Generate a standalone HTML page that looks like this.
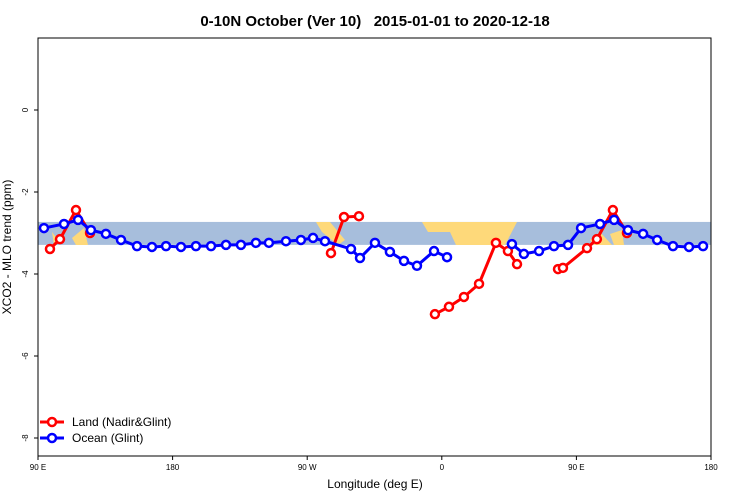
<!DOCTYPE html>
<html><head><meta charset="utf-8"><style>
body{margin:0;background:#fff;}
svg{display:block;font-family:"Liberation Sans",sans-serif;}
</style></head><body>
<svg id="chart" width="750" height="500">
<text x="375" y="26" text-anchor="middle" font-size="15" font-weight="bold" style="white-space:pre">0-10N October (Ver 10)   2015-01-01 to 2020-12-18</text>
<g id="map"></g>
<g id="axes"></g>
<g id="series"></g>
<text x="375" y="488" text-anchor="middle" font-size="12">Longitude (deg E)</text>
<text transform="translate(11,247) rotate(-90)" text-anchor="middle" font-size="12">XCO2 - MLO trend (ppm)</text>
<g>
<line x1="40" y1="422" x2="64" y2="422" stroke="#f00" stroke-width="3"/><circle cx="52" cy="422" r="4" fill="#fff" stroke="#f00" stroke-width="2.5"/>
<text x="72" y="426" font-size="12">Land (Nadir&amp;Glint)</text>
<line x1="40" y1="438" x2="64" y2="438" stroke="#00f" stroke-width="3"/><circle cx="52" cy="438" r="4" fill="#fff" stroke="#00f" stroke-width="2.5"/>
<text x="72" y="442" font-size="12">Ocean (Glint)</text>
</g>
</svg>
<script>
const xTickVals=[90,180,270,360,450,540];
const xTickLabels=["90 E","180","90 W","0","90 E","180"];
const yTickVals=[0,-2,-4,-6,-8];
const yTickLabels=["0","-2","-4","-6","-8"];
const oceanLon=[94,107.4,116.8,125.4,135.4,145.5,156.2,166.2,175.6,185.6,195.6,205.7,215.7,225.7,235.7,244.4,255.8,265.8,273.9,281.9,299.3,305.3,315.3,325.3,334.7,343.4,354.8,363.5,null,406.9,414.9,425,435,444.4,453.1,465.8,475.2,484.5,494.6,504,514.6,525.3,534.7];
const oceanVal=[-2.88,-2.78,-2.68,-2.93,-3.02,-3.17,-3.32,-3.34,-3.32,-3.34,-3.32,-3.32,-3.29,-3.29,-3.24,-3.24,-3.2,-3.17,-3.12,-3.2,-3.39,-3.61,-3.24,-3.46,-3.68,-3.8,-3.44,-3.59,null,-3.27,-3.51,-3.44,-3.32,-3.29,-2.88,-2.78,-2.68,-2.93,-3.02,-3.17,-3.32,-3.34,-3.32];
const landLon=[98,104.7,115.4,124.8,null,285.9,294.6,304.6,null,355.4,364.8,374.8,384.9,396.2,404.2,410.3,null,437.7,441,457.1,463.7,474.4,483.8];
const landVal=[-3.39,-3.15,-2.44,-3.0,null,-3.49,-2.61,-2.59,null,-4.98,-4.8,-4.56,-4.24,-3.24,-3.44,-3.76,null,-3.88,-3.85,-3.37,-3.15,-2.44,-3.0];
const X0=38,X1=711,Y0=38,Y1=456;
const xs=l=>X0+(l-90)/450*(X1-X0);
const ys=v=>110-v*41;
const NS="http://www.w3.org/2000/svg";
function mk(t,a,p){const e=document.createElementNS(NS,t);for(const k in a)e.setAttribute(k,a[k]);p.appendChild(e);return e;}
const map=document.getElementById('map');
mk('rect',{x:X0,y:ys(-2.73),width:X1-X0,height:ys(-3.29)-ys(-2.73),fill:'#a7bedc'},map);
const lands=[[[422,222],[517,222],[505,245],[456,245],[450,232],[428,232]],[[316,222],[330,222],[345,240],[338,245],[322,232]],[[52,232],[58,240],[54,245]],[[72,238],[84,228],[88,245],[76,245]],[[590,240],[600,232],[612,245],[594,245]],[[610,234],[622,230],[624,245],[614,245]]];
lands.forEach(p=>mk('polygon',{points:p.map(q=>q.join(',')).join(' '),fill:'#fed97a'},map));
const ax=document.getElementById('axes');
mk('rect',{x:X0,y:Y0,width:X1-X0,height:Y1-Y0,fill:'none',stroke:'#000','stroke-width':1},ax);
xTickVals.forEach((v,i)=>{mk('line',{x1:xs(v),x2:xs(v),y1:Y1,y2:Y1+4,stroke:'#000'},ax);
 const t=mk('text',{x:xs(v),y:Y1+14,'text-anchor':'middle','font-size':8},ax);t.textContent=xTickLabels[i];});
yTickVals.forEach((v,i)=>{mk('line',{x1:X0-4,x2:X0,y1:ys(v),y2:ys(v),stroke:'#000'},ax);
 const t=mk('text',{transform:`translate(28,${ys(v)}) rotate(-90)`,'text-anchor':'middle','font-size':8},ax);t.textContent=yTickLabels[i];});
const sg=document.getElementById('series');
function draw(lon,val,col,name){
 let segs=[],cur=[];
 lon.forEach((l,i)=>{if(l===null){segs.push(cur);cur=[];}else cur.push([xs(l),ys(val[i])]);});segs.push(cur);
 segs.forEach(s=>{const pl=mk('polyline',{points:s.map(p=>p.join(',')).join(' '),fill:'none',stroke:col,'stroke-width':3},sg);
  
  });
 lon.forEach((l,i)=>{if(l===null)return;const c=mk('circle',{cx:xs(l),cy:ys(val[i]),r:4,fill:'#fff',stroke:col,'stroke-width':2.5},sg);
  
  });
}
draw(landLon,landVal,'#f00','land');
draw(oceanLon,oceanVal,'#00f','ocean');
</script>
</body></html>
